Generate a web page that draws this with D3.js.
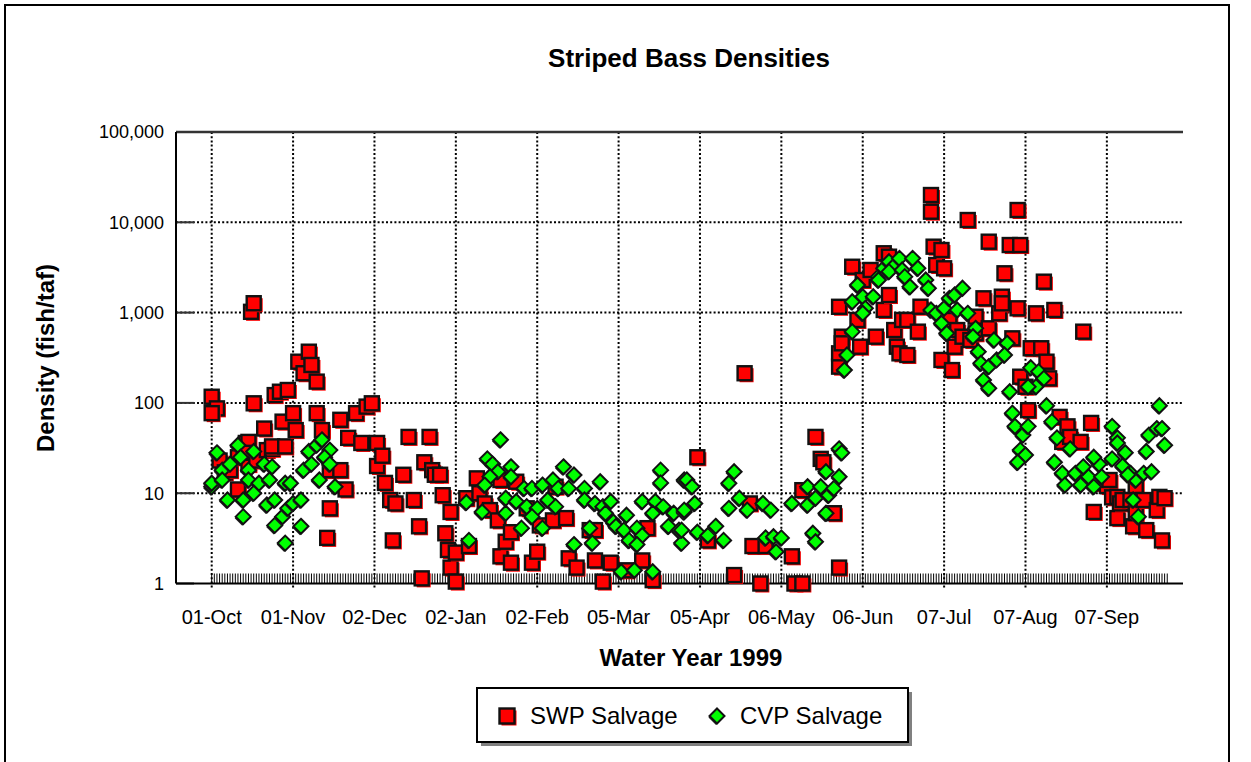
<!DOCTYPE html>
<html>
<head>
<meta charset="utf-8">
<script src="https://cdn.jsdelivr.net/npm/d3@7"></script>
<style>
  html, body { margin: 0; padding: 0; background: #fff; }
  svg { display: block; font-family: "Liberation Sans", Arial, sans-serif; }
</style>
</head>
<body>
<svg id="chart" width="1251" height="762"></svg>
<script>
// Striped bass densities, water year 1999 (day 0 = 01-Oct-1998)
const chartTitle = "Striped Bass Densities";
const xTitle = "Water Year 1999";
const yTitle = "Density (fish/taf)";
const seriesNames = ["SWP Salvage", "CVP Salvage"];
const startDate = new Date(1998, 9, 1);
const labelDays = [0, 31, 62, 93, 124, 155, 186, 217, 248, 279, 310, 341];
const yTicks = [1, 10, 100, 1000, 10000, 100000];

// [day, fish/taf]
const swpSalvage = [
  [0,117],[2,87],[0,77],[3,23],[5,17],[7,18],[10,25],[10,11],[13,36],[14,21],[14,37],[13,28],
  [15,1020],[16,1270],[16,99],[17,23],[20,52],[21,30],[23,31],[23,33],[24,122],[26,133],[27,62],
  [28,33],[29,139],[31,77],[32,50],[33,286],[35,213],[37,369],[38,263],[40,172],[40,77],[42,50],
  [44,3.2],[45,18],[45,6.8],[49,18],[49,65],[51,11],[52,41],[55,77],[57,36],[59,91],[61,99],
  [63,36],[63,20],[65,26],[66,13],[68,8.4],[69,3.0],[70,7.7],[73,16],[75,42],[77,8.4],[79,4.3],
  [80,1.14],[81,22],[83,42],[84,18],[85,16],[87,16],[88,9.5],[89,3.6],[90,2.35],[91,6.2],[91,1.5],
  [93,2.2],[93,1.05],[97,8.8],[98,2.6],[101,14.6],[102,10],[104,7.7],[106,6.5],[109,5.0],[110,14],
  [110,2.0],[112,2.9],[114,3.7],[114,1.7],[116,13.4],[120,6.8],[122,1.7],[124,2.25],[125,4.4],
  [130,5.0],[131,11.8],[135,5.3],[136,1.9],[139,1.5],[144,3.9],[146,3.9],[146,1.8],[149,1.05],
  [152,1.7],[158,1.4],[164,1.8],[166,4.1],[168,1.09],[185,25],[189,3.0],[199,1.24],[203,213],
  [205,7.7],[206,2.6],[209,1.0],[211,2.6],[221,2.0],[222,1.0],[225,1.0],[225,10.8],[230,42],
  [232,24],[233,22],[237,6.0],[239,1.5],[239,252],[239,354],[239,1160],[240,541],[240,457],
  [244,3220],[246,828],[247,419],[248,2295],[251,2965],[253,541],[256,1069],[256,4540],[258,1565],
  [258,4160],[260,641],[261,419],[262,354],[263,828],[265,339],[265,828],[269,615],[270,1162],
  [274,20050],[274,13100],[275,5370],[276,3365],[278,4930],[279,3095],[278,299],[281,828],[282,231],
  [283,419],[284,641],[286,541],[288,10600],[289,497],[291,901],[291,590],[294,1440],[296,6100],
  [296,670],[300,982],[301,1500],[301,1267],[302,2725],[304,5600],[305,519],[307,13680],[307,1116],
  [308,5600],[308,195],[310,151],[311,83],[312,403],[314,982],[316,403],[317,2200],[318,286],
  [319,187],[321,1069],[323,70],[324,37],[326,55],[327,42],[331,37],[332,615],[335,60],[336,6.2],
  [338,13],[341,12],[342,14],[343,9],[345,9.1],[345,5.3],[346,7.7],[347,8.4],[350,8.4],[351,4.3],
  [352,6.0],[352,12],[355,8.4],[356,3.9],[360,6.5],[361,9.1],[362,3.0],[363,8.8]
];

const cvpSalvage = [
  [2,28],[0,11.8],[0,12.9],[4,18],[4,14],[6,8.4],[10,34],[11,25],[7,21],[14,18],[14,14],[16,29],
  [18,12.9],[12,8.4],[16,10],[12,5.5],[20,21],[23,19.6],[22,14],[21,7.4],[24,8.4],[24,4.4],[27,5.5],
  [28,12.9],[30,12.9],[29,6.8],[31,7.7],[34,8.4],[34,4.3],[28,2.8],[35,18],[38,21],[37,29],[40,34],
  [42,39],[45,30],[43,25],[45,21],[41,14],[47,11.8],
  [110,39],[105,24],[107,21],[109,17.3],[106,15.2],[104,12.3],[114,19.6],[114,15.2],[97,7.9],
  [103,6.2],[112,8.8],[116,8.1],[112,6.0],[119,11.3],[122,11.3],[120,7.1],[124,6.8],[122,5.5],
  [118,4.1],[126,4.1],[98,3.0],[126,12.3],[130,14],[128,8.4],[131,7.1],[132,11.3],[134,19.6],
  [138,15.9],[136,11.3],[142,11.3],[142,8.4],[148,13.4],[138,2.7],[146,7.7],[149,7.1],[152,8.1],
  [150,6.0],[153,4.8],[144,4.1],[145,2.8],[154,4.3],[157,3.9],[158,5.7],[159,3.0],[162,4.1],
  [164,3.4],[162,2.7],[164,8.1],[169,8.1],[172,7.1],[168,6.0],[176,6.0],[180,6.2],[171,18],[171,13],
  [174,4.3],[178,3.9],[179,2.8],[180,14],[156,1.35],[161,1.4],[168,1.35],
  [181,14],[183,11.8],[180,6.5],[184,7.7],[179,3.9],[185,3.7],[189,3.4],[192,4.3],[195,3.0],
  [197,6.8],[199,17.3],[197,12.9],[201,8.8],[204,6.5],[210,7.7],[213,6.5],[211,3.2],[214,3.3],
  [217,3.2],[215,2.25],[221,7.7],[227,7.4],[227,11.8],[230,8.8],[229,3.6],[230,2.9],[232,11.8],
  [234,17.3],[235,9.5],[237,11.3],[234,6.0],[239,15.2],[239,31],[240,28],[242,339],[241,231],
  [244,615],[246,2020],[248,1500],[249,1116],[244,1320],[252,1500],[248,982],[254,2500],[256,3095],
  [258,3660],[260,3300],[262,3990],[258,2840],[254,2295],[263,2965],[264,2500],[266,1935],
  [267,3990],[269,3095],[272,2295],[273,1860],[274,1069],[276,982],[278,761],[280,590],[279,1116],
  [281,1440],[283,1565],[286,1860],[284,1069],[288,982],[291,670],[290,541],[298,497],[303,457],
  [292,369],[293,275],[296,252],[299,299],[302,339],[294,179],[296,145],[304,133],[312,245],
  [315,222],[317,187],[314,151],[311,151],
  [305,77],[306,55],[309,44],[311,55],[308,30],[310,26.5],[307,22],[318,93],[320,62],[322,41],
  [321,22],[324,16.6],[325,12.3],[327,31],[329,16.6],[331,12.3],[334,15.2],[336,11.8],[339,15.2],
  [343,24],[345,41],[348,28],[350,16.6],[352,14],[343,55],[332,19.6],[338,21],[336,25],[347,20],
  [349,16],[345,36],[355,16.6],[356,29],[358,17.3],[357,44],[360,52],[362,52],[361,93],[363,34],
  [351,8.4],[353,5.5]
];

const plot = { left: 176, top: 132, right: 1183, bottom: 583.5 };
const svg = d3.select("#chart");

const x = d3.scaleLinear().domain([-13.6, 370]).range([plot.left, plot.right]);
const y = d3.scaleLog().domain([1, 100000]).range([plot.bottom, plot.top]);
const fmtDate = d3.timeFormat("%d-%b");
const fmtY = d3.format(",");

// outer chart border
svg.append("rect").attr("x", 5).attr("y", 5).attr("width", 1224).attr("height", 800)
  .attr("fill", "none").attr("stroke", "#000").attr("stroke-width", 2);

// gridlines
const grid = svg.append("g");
grid.selectAll("line.gy").data(yTicks.slice(1, -1)).join("line")
  .attr("x1", plot.left).attr("x2", plot.right)
  .attr("y1", d => y(d)).attr("y2", d => y(d))
  .attr("stroke", "#000").attr("stroke-width", 2).attr("stroke-dasharray", "2,2.2");
grid.selectAll("line.gx").data(labelDays).join("line")
  .attr("x1", d => x(d)).attr("x2", d => x(d))
  .attr("y1", plot.top).attr("y2", plot.bottom + 5)
  .attr("stroke", "#000").attr("stroke-width", 2).attr("stroke-dasharray", "2,2.2");

// daily minor ticks
svg.append("g").selectAll("line").data(d3.range(0, 365)).join("line")
  .attr("x1", d => x(d)).attr("x2", d => x(d))
  .attr("y1", plot.bottom - 10).attr("y2", plot.bottom)
  .attr("stroke", "#000").attr("stroke-width", 1);

// y inner ticks
svg.append("g").selectAll("line").data(yTicks).join("line")
  .attr("x1", plot.left).attr("x2", plot.left + 18)
  .attr("y1", d => y(d)).attr("y2", d => y(d))
  .attr("stroke", "#333").attr("stroke-width", 2);

// frame
svg.append("line").attr("x1", plot.left).attr("x2", plot.right)
  .attr("y1", plot.top).attr("y2", plot.top).attr("stroke", "#333").attr("stroke-width", 2.5);
svg.append("line").attr("x1", plot.left).attr("x2", plot.left)
  .attr("y1", plot.top).attr("y2", plot.bottom).attr("stroke", "#000").attr("stroke-width", 2);
svg.append("line").attr("x1", plot.left).attr("x2", plot.right)
  .attr("y1", plot.bottom).attr("y2", plot.bottom).attr("stroke", "#000").attr("stroke-width", 2);

// tick labels
svg.append("g").selectAll("text").data(yTicks).join("text")
  .attr("x", 164).attr("y", d => y(d)).attr("dy", "0.35em")
  .attr("text-anchor", "end").attr("font-size", 18).text(d => fmtY(d));
svg.append("g").selectAll("text").data(labelDays).join("text")
  .attr("x", d => x(d)).attr("y", 624)
  .attr("text-anchor", "middle").attr("font-size", 20)
  .text(d => fmtDate(d3.timeDay.offset(startDate, d)));

// titles
svg.append("text").attr("x", 689).attr("y", 67).attr("text-anchor", "middle")
  .attr("font-size", 26).attr("font-weight", "bold").text(chartTitle);
svg.append("text").attr("x", 691).attr("y", 666).attr("text-anchor", "middle")
  .attr("font-size", 24).attr("font-weight", "bold").text(xTitle);
svg.append("text").attr("transform", "translate(54,358) rotate(-90)").attr("text-anchor", "middle")
  .attr("font-size", 24).attr("font-weight", "bold").text(yTitle);

// markers
const diamond = "M0,-7.5L7.5,0L0,7.5L-7.5,0Z";
function drawSquare(g, cx, cy, s) {
  g.append("rect").attr("x", cx - s / 2 + 2).attr("y", cy - s / 2 + 2).attr("width", s).attr("height", s)
    .attr("fill", "#ff0000");
  g.append("rect").attr("x", cx - s / 2).attr("y", cy - s / 2).attr("width", s).attr("height", s)
    .attr("fill", "#ff0000").attr("stroke", "#111").attr("stroke-width", 2.4);
}
function drawDiamond(g, cx, cy) {
  g.append("path").attr("d", diamond).attr("transform", `translate(${cx - 1},${cy + 1.5})`)
    .attr("fill", "#222");
  g.append("path").attr("d", diamond).attr("transform", `translate(${cx},${cy})`)
    .attr("fill", "#00ff00").attr("stroke", "#111").attr("stroke-width", 2);
}

const gSwp = svg.append("g");
swpSalvage.forEach(d => drawSquare(gSwp, x(d[0]), y(d[1]), 14));
const gCvp = svg.append("g");
cvpSalvage.forEach(d => drawDiamond(gCvp, x(d[0]), y(d[1])));

// legend
const lg = svg.append("g");
lg.append("rect").attr("x", 481).attr("y", 692).attr("width", 431).attr("height", 54).attr("fill", "#808080");
lg.append("rect").attr("x", 477).attr("y", 688).attr("width", 431).attr("height", 54)
  .attr("fill", "#fff").attr("stroke", "#000").attr("stroke-width", 2);
drawSquare(lg, 507, 716, 15);
lg.append("text").attr("x", 530).attr("y", 724).attr("font-size", 24).text(seriesNames[0]);
drawDiamond(lg, 717, 716);
lg.append("text").attr("x", 740).attr("y", 724).attr("font-size", 24).text(seriesNames[1]);
</script>
</body>
</html>
